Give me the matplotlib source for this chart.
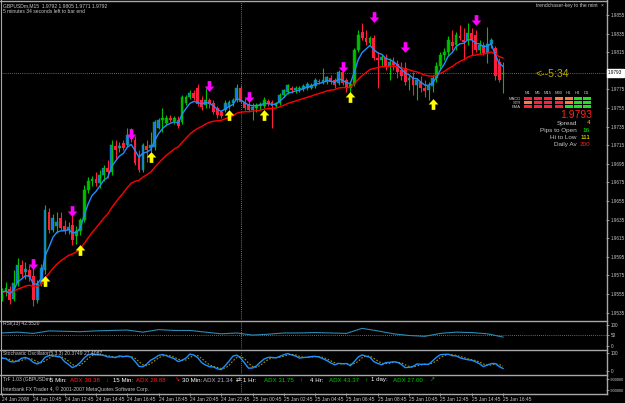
import matplotlib.pyplot as plt
import numpy as np
import pandas as pd
from matplotlib.path import Path
from matplotlib.transforms import Affine2D
from matplotlib.patches import Rectangle
from matplotlib.lines import Line2D

W, H = 625, 403
plt.rcParams['font.family'] = ['Liberation Sans Narrow', 'Liberation Sans', 'DejaVu Sans']

# GBPUSDm M15 bars, 24 Jan 2008 08:45 .. 25 Jan 2008 16:45
opens = [
    1.9551, 1.9557, 1.9560, 1.9550, 1.9567, 1.9586, 1.9579, 1.9581, 1.9574, 1.9549,
    1.9566, 1.9581, 1.9643, 1.9624, 1.9628, 1.9637, 1.9628, 1.9624, 1.9629, 1.9617,
    1.9623, 1.9635, 1.9667, 1.9676, 1.9679, 1.9674, 1.9683, 1.9690, 1.9686, 1.9714,
    1.9712, 1.9717, 1.9715, 1.9726, 1.9721, 1.9702, 1.9688, 1.9714, 1.9712, 1.9713,
    1.9734, 1.9742, 1.9739, 1.9744, 1.9741, 1.9742, 1.9740, 1.9760, 1.9767, 1.9771,
    1.9776, 1.9764, 1.9758, 1.9764, 1.9760, 1.9755, 1.9751, 1.9753, 1.9756, 1.9760,
    1.9764, 1.9776, 1.9761, 1.9759, 1.9753, 1.9755, 1.9757, 1.9757, 1.9762, 1.9761,
    1.9757, 1.9760, 1.9769, 1.9772, 1.9776, 1.9774, 1.9775, 1.9775, 1.9776, 1.9777,
    1.9779, 1.9784, 1.9783, 1.9783, 1.9787, 1.9785, 1.9782, 1.9794, 1.9785, 1.9776,
    1.9781, 1.9817, 1.9837, 1.9830, 1.9825, 1.9830, 1.9809, 1.9807, 1.9809, 1.9800,
    1.9804, 1.9802, 1.9796, 1.9798, 1.9785, 1.9787, 1.9780, 1.9783, 1.9776, 1.9774,
    1.9779, 1.9787, 1.9800, 1.9812, 1.9815, 1.9826, 1.9823, 1.9832, 1.9828, 1.9828,
    1.9836, 1.9834, 1.9817, 1.9823, 1.9814, 1.9824, 1.9819, 1.9804, 1.9792]
highs = [
    1.9561, 1.9568, 1.9564, 1.9581, 1.9594, 1.9592, 1.9589, 1.9586, 1.9585, 1.9570,
    1.9587, 1.9651, 1.9647, 1.9641, 1.9643, 1.9643, 1.9635, 1.9632, 1.9640, 1.9628,
    1.9637, 1.9672, 1.9681, 1.9682, 1.9686, 1.9688, 1.9694, 1.9699, 1.9721, 1.9721,
    1.9718, 1.9721, 1.9733, 1.9733, 1.9725, 1.9710, 1.9717, 1.9721, 1.9729, 1.9742,
    1.9744, 1.9755, 1.9747, 1.9747, 1.9746, 1.9746, 1.9769, 1.9769, 1.9774, 1.9774,
    1.9781, 1.9768, 1.9776, 1.9766, 1.9764, 1.9757, 1.9753, 1.9764, 1.9764, 1.9766,
    1.9781, 1.9780, 1.9766, 1.9764, 1.9760, 1.9760, 1.9761, 1.9767, 1.9765, 1.9764,
    1.9761, 1.9771, 1.9775, 1.9781, 1.9779, 1.9779, 1.9779, 1.9781, 1.9783, 1.9782,
    1.9787, 1.9786, 1.9798, 1.9789, 1.9790, 1.9787, 1.9796, 1.9796, 1.9787, 1.9783,
    1.9819, 1.9839, 1.9846, 1.9839, 1.9832, 1.9834, 1.9815, 1.9812, 1.9813, 1.9809,
    1.9810, 1.9807, 1.9804, 1.9804, 1.9790, 1.9794, 1.9787, 1.9789, 1.9785, 1.9783,
    1.9790, 1.9804, 1.9815, 1.9819, 1.9832, 1.9839, 1.9837, 1.9844, 1.9841, 1.9846,
    1.9841, 1.9839, 1.9828, 1.9826, 1.9842, 1.9830, 1.9822, 1.9809, 1.9805]
lows = [
    1.9547, 1.9553, 1.9544, 1.9547, 1.9564, 1.9573, 1.9571, 1.9569, 1.9542, 1.9545,
    1.9564, 1.9577, 1.9621, 1.9622, 1.9621, 1.9624, 1.9620, 1.9620, 1.9608, 1.9609,
    1.9618, 1.9632, 1.9664, 1.9671, 1.9671, 1.9669, 1.9677, 1.9680, 1.9683, 1.9699,
    1.9708, 1.9710, 1.9713, 1.9718, 1.9694, 1.9686, 1.9686, 1.9697, 1.9708, 1.9710,
    1.9732, 1.9729, 1.9736, 1.9740, 1.9738, 1.9733, 1.9738, 1.9758, 1.9765, 1.9764,
    1.9757, 1.9753, 1.9755, 1.9755, 1.9749, 1.9744, 1.9744, 1.9751, 1.9754, 1.9757,
    1.9761, 1.9760, 1.9753, 1.9751, 1.9742, 1.9751, 1.9753, 1.9755, 1.9757, 1.9733,
    1.9755, 1.9758, 1.9767, 1.9770, 1.9771, 1.9771, 1.9772, 1.9773, 1.9774, 1.9775,
    1.9776, 1.9781, 1.9781, 1.9781, 1.9781, 1.9777, 1.9780, 1.9780, 1.9772, 1.9769,
    1.9779, 1.9815, 1.9828, 1.9823, 1.9822, 1.9807, 1.9776, 1.9800, 1.9796, 1.9785,
    1.9796, 1.9787, 1.9785, 1.9780, 1.9774, 1.9769, 1.9764, 1.9772, 1.9767, 1.9764,
    1.9772, 1.9783, 1.9796, 1.9807, 1.9811, 1.9817, 1.9817, 1.9828, 1.9807, 1.9823,
    1.9812, 1.9815, 1.9813, 1.9812, 1.9803, 1.9819, 1.9785, 1.9783, 1.9771]
closes = [
    1.9557, 1.9561, 1.9549, 1.9567, 1.9586, 1.9577, 1.9582, 1.9573, 1.9549, 1.9566,
    1.9583, 1.9645, 1.9624, 1.9637, 1.9632, 1.9626, 1.9623, 1.9627, 1.9613, 1.9623,
    1.9635, 1.9667, 1.9676, 1.9679, 1.9674, 1.9683, 1.9690, 1.9686, 1.9715, 1.9710,
    1.9714, 1.9712, 1.9726, 1.9722, 1.9696, 1.9688, 1.9715, 1.9710, 1.9715, 1.9740,
    1.9742, 1.9744, 1.9744, 1.9742, 1.9744, 1.9736, 1.9767, 1.9767, 1.9771, 1.9766,
    1.9759, 1.9756, 1.9764, 1.9759, 1.9751, 1.9747, 1.9746, 1.9760, 1.9761, 1.9764,
    1.9777, 1.9761, 1.9755, 1.9753, 1.9756, 1.9758, 1.9759, 1.9764, 1.9759, 1.9757,
    1.9760, 1.9769, 1.9774, 1.9780, 1.9774, 1.9776, 1.9776, 1.9779, 1.9781, 1.9780,
    1.9785, 1.9783, 1.9785, 1.9788, 1.9783, 1.9780, 1.9794, 1.9782, 1.9776, 1.9781,
    1.9817, 1.9834, 1.9830, 1.9826, 1.9830, 1.9809, 1.9807, 1.9810, 1.9800, 1.9804,
    1.9801, 1.9794, 1.9789, 1.9783, 1.9787, 1.9780, 1.9785, 1.9776, 1.9773, 1.9779,
    1.9787, 1.9800, 1.9812, 1.9815, 1.9828, 1.9822, 1.9834, 1.9830, 1.9826, 1.9836,
    1.9828, 1.9817, 1.9823, 1.9814, 1.9824, 1.9828, 1.9789, 1.9785, 1.9793]

# signal arrows: bar index and price
sell_bars = [8, 18, 33, 53, 63, 87, 95, 103, 121]
sell_prices = [1.9587, 1.9644, 1.9727, 1.9779, 1.9767, 1.9799, 1.9853, 1.9821, 1.9850]
buy_bars = [11, 20, 38, 58, 67, 89, 110]
buy_prices = [1.9569, 1.9602, 1.9702, 1.9747, 1.9747, 1.9767, 1.9759]

# RSI(13) read every 4 bars
rsi_bars = list(range(0, 129, 4))
rsi_vals = [62, 66, 60, 72, 70, 68, 72, 74, 76, 66, 78, 74, 74, 66, 58, 62, 52,
            56, 62, 62, 64, 62, 60, 84, 72, 58, 50, 46, 60, 66, 64, 58, 42.6]

price_ticks = [1.9535, 1.9555, 1.9575, 1.9595, 1.9615, 1.9635, 1.9655, 1.9675, 1.9695,
               1.9715, 1.9735, 1.9755, 1.9775, 1.9815, 1.9835, 1.9855]
time_bars = [0, 8, 16, 24, 32, 40, 48, 56, 64, 72, 80, 88, 96, 104, 112, 120, 128]
time_labels = ['24 Jan 2008', '24 Jan 10:45', '24 Jan 12:45', '24 Jan 14:45', '24 Jan 16:45',
               '24 Jan 18:45', '24 Jan 20:45', '24 Jan 22:45', '25 Jan 00:45', '25 Jan 02:45',
               '25 Jan 04:45', '25 Jan 06:45', '25 Jan 08:45', '25 Jan 10:45', '25 Jan 12:45',
               '25 Jan 14:45', '25 Jan 16:45']
day_start = 61
bid = 1.9793

# dashboard
tf_names = ['M1', 'M5', 'M15', 'M30', 'H1', 'H4', 'D1']
row_names = ['MACD', 'STR', 'EMA']
row_states = [['dn', 'dn', 'dn', 'wk', 'wk', 'up', 'up'],
              ['wk', 'dn', 'dn', 'dn', 'wk', 'up', 'up'],
              ['dn', 'dn', 'dn', 'dn', 'up', 'up', 'up']]
info_names = ['Spread', 'Pips to Open', 'Hi to Low', 'Daily Av']
info_values = ['4', '16', '111', '200']
info_colors = ['#ffb000', '#00ff00', '#ffff00', '#ff2020']

trf_items = [('TrF 1.03 (GBPUSDm)', '#c8c8c8'), ('5 Min:', '#ffffff'), ('ADX 30.38', '#ff2020'),
             ('\u2193', '#ff2020'), ('15 Min:', '#ffffff'), ('ADX 28.88', '#ff2020'),
             ('\u2198', '#ff2020'), ('30 Min:', '#ffffff'), ('ADX 21.34', '#b4b4c8'),
             ('\u21c4', '#ffffff'), ('1 Hr:', '#ffffff'), ('ADX 31.75', '#00c800'),
             ('\u2191', '#00c800'), ('4 Hr:', '#ffffff'), ('ADX 43.37', '#00c800'),
             ('\u2191', '#00c800'), ('1 day:', '#ffffff'), ('ADX 27.00', '#00c800'),
             ('\u2197', '#00c800')]
trf_x = [3, 50, 70, 105, 113, 136, 174, 182, 203, 236, 243, 264, 299, 310, 329, 364, 371, 393, 429]

o = np.array(opens); h = np.array(highs); l = np.array(lows); c = np.array(closes)
idx = np.arange(len(c))
cs = pd.Series(c)
ema_fast = cs.ewm(span=5, adjust=False).mean()
ema_slow = cs.ewm(span=21, adjust=False).mean()
hh = pd.Series(h).rolling(5, min_periods=1).max()
ll = pd.Series(l).rolling(5, min_periods=1).min()
raw = (cs - ll) / (hh - ll) * 100
st_k = raw.rolling(3, min_periods=1).mean()
st_d = st_k.rolling(3, min_periods=1).mean()

fig = plt.figure(figsize=(W / 100, H / 100), dpi=100, facecolor='black')
PIX = Affine2D().scale(1 / W, -1 / H).translate(0, 1) + fig.transFigure
XMIN, XMAX = -0.2555, 154.31
GREY = '#c8c8c8'


def pax(x0, y0, x1, y1):
    a = fig.add_axes([x0 / W, 1 - y1 / H, (x1 - x0) / W, (y1 - y0) / H])
    a.set_facecolor('black')
    for s in a.spines.values():
        s.set_visible(False)
    a.set_xlim(XMIN, XMAX)
    a.tick_params(left=False, labelleft=False, bottom=False, labelbottom=False)
    a.yaxis.tick_right()
    a.tick_params(axis='y', right=True, labelright=True, colors=GREY, labelsize=3.3,
                  length=2, width=0.5, pad=1.2)
    a.axvline(day_start, color='#9a9a9a', lw=0.6, ls=(0, (1, 1.5)))
    return a


def ftext(x, y, s, **kw):
    kw.setdefault('fontsize', 3.8)
    kw.setdefault('color', GREY)
    kw.setdefault('va', 'center')
    fig.text(x, y, s, transform=PIX, **kw)


# main chart
ax = pax(1, 2, 606, 320)
ax.set_ylim(1.95270, 1.98690)
ax.set_yticks(price_ticks)
ax.set_yticklabels(['%.4f' % t for t in price_ticks])
ax.axhline(bid, color='#8a8a8a', lw=0.6, ls=(0, (1, 1.5)))
up = c >= o
ax.vlines(idx[up], l[up], h[up], color='#00c000', lw=0.8)
ax.vlines(idx[~up], l[~up], h[~up], color='#ff1e3c', lw=0.8)
ax.bar(idx[up], np.maximum(c - o, 0.00005)[up], bottom=o[up], width=0.72,
       color='#1e6cff', edgecolor='#00c000', linewidth=0.3)
ax.bar(idx[~up], (o - c)[~up], bottom=c[~up], width=0.72, color='#ff1e3c', linewidth=0)
ax.plot(idx, ema_slow, color='#ff0000', lw=1.0)
ax.plot(idx, ema_fast, color='#1e8fff', lw=1.0)

down_arrow = Path([(-0.17, 0.5), (0.17, 0.5), (0.17, 0.0), (0.45, 0.0), (0, -0.5),
                   (-0.45, 0.0), (-0.17, 0.0), (-0.17, 0.5)])
up_arrow = Path([(x, -y) for x, y in down_arrow.vertices])
ax.scatter(sell_bars, sell_prices, marker=down_arrow, s=60, color='#ff00ff', lw=0, zorder=5)
ax.scatter(buy_bars, buy_prices, marker=up_arrow, s=60, color='#ffff00', lw=0, zorder=5)

# RSI
ax_rsi = pax(1, 321, 606, 349)
ax_rsi.set_ylim(-14.3, 119)
ax_rsi.set_yticks([0, 50, 100])
ax_rsi.axhline(50, color='#8a8a8a', lw=0.6, ls=(0, (1, 1.5)))
ax_rsi.plot(rsi_bars, rsi_vals, color='#2a8bb5', lw=0.8)

# Stochastic
ax_st = pax(1, 351, 606, 374)
ax_st.set_ylim(-16.7, 111.1)
ax_st.set_yticks([0, 100])
ax_st.plot(idx, st_d, color='#a89600', lw=0.8, ls=(0, (1.5, 1.5)))
ax_st.plot(idx, st_k, color='#1e8fff', lw=1.0)

# TrF panel + time axis
ax_tr = pax(1, 376, 606, 393)
ax_tr.set_ylim(-1, 1)
ax_tr.set_yticks([0.6, -0.7])
ax_tr.set_yticklabels(['-900000', '-900000'])
ax_tr.tick_params(axis='y', labelsize=2.9, pad=0.8)
ax_tr.set_xticks(time_bars)
ax_tr.set_xticklabels(time_labels, ha='left')
ax_tr.tick_params(axis='x', bottom=True, labelbottom=True, colors=GREY, labelsize=3.5,
                  length=2, width=0.5, pad=1)

# frame / separators
for yy in [1, 320.5, 350, 375, 393.5]:
    fig.add_artist(Line2D([0, 606.5], [yy, yy], transform=PIX, color='#a8a8a8', lw=1.0))
fig.add_artist(Line2D([606.5, 606.5], [0, 394], transform=PIX, color='#a8a8a8', lw=1.0))
fig.add_artist(Line2D([0.7, 0.7], [0, 394], transform=PIX, color='#a8a8a8', lw=0.8))

# texts
ftext(3, 5.5, 'GBPUSDm,M15  1.9792 1.9805 1.9771 1.9792', fontsize=3.6)
ftext(3, 11.5, '5 minutes 34 seconds left to bar end', fontsize=3.6)
ftext(598, 5.5, 'trendchaser-key to the mint', fontsize=3.6, ha='right')
ftext(602, 5.5, '\u00d7', fontsize=3.6, ha='center')
ftext(535, 74, '<--5:34', fontsize=7.6, color='#b8a800')
ftext(608, 73, '%.4f' % bid, fontsize=3.3, color='black',
      bbox=dict(boxstyle='square,pad=0.3', fc='white', ec='white'))
ftext(3, 324, 'RSI(13) 42.5520', fontsize=3.6)
ftext(3, 354, 'Stochastic Oscillator(5,3,3) 20.3749 27.4087', fontsize=3.6)
for k, (x, (txt, col)) in enumerate(zip(trf_x, trf_items)):
    ftext(x, 380, txt, fontsize=3.6 if k == 0 else 4.4, color=col)
ftext(3, 389.5, 'Interbank FX Trader 4, \u00a9 2001-2007 MetaQuotes Software Corp.', fontsize=3.6)

# dashboard table
state_col = {'dn': '#ff2040', 'wk': '#ff7a40', 'up': '#20e020'}
col_x = [524, 534, 544, 555, 565, 574, 583]
for j, name in enumerate(tf_names):
    ftext(col_x[j] + 3.5, 93.5, name, fontsize=3.0, ha='center')
for r, name in enumerate(row_names):
    ftext(521, 98.5 + 4 * r, name, fontsize=3.0, ha='right')
    for j, st in enumerate(row_states[r]):
        fig.add_artist(Rectangle((col_x[j], 97 + 4 * r), 7.5, 3, transform=PIX,
                                 color=state_col[st], lw=0))
ftext(576, 115, '%.4f' % bid, fontsize=7.5, color='#ff2020', ha='center')
for k, (nm, val, col) in enumerate(zip(info_names, info_values, info_colors)):
    ftext(577, 123 + 7.3 * k, nm, fontsize=4.6, ha='right')
    ftext(590, 123 + 7.3 * k, val, fontsize=4.6, color=col, ha='right')

fig.savefig('out.png', dpi=100, facecolor='black')
